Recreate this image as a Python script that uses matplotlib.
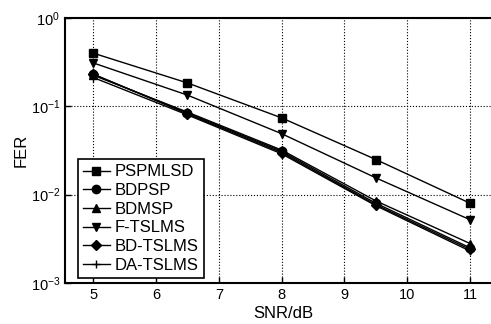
import matplotlib
matplotlib.use("Agg")
import matplotlib.pyplot as plt
import numpy as np

plt.rcParams["font.family"] = ["Liberation Sans", "DejaVu Sans"]

snr = [5, 6.5, 8, 9.5, 11]
pspmlsd = [0.40, 0.184, 0.074, 0.025, 0.0080]
bdpsp = [0.230, 0.084, 0.031, 0.0080, 0.0025]
bdmsp = [0.225, 0.086, 0.032, 0.0085, 0.0028]
f_tslms = [0.31, 0.134, 0.049, 0.0155, 0.0052]
bd_tslms = [0.232, 0.082, 0.030, 0.0077, 0.0024]
da_tslms = [0.212, 0.080, 0.029, 0.0075, 0.0023]

series = [
    ("PSPMLSD", pspmlsd, "s"),
    ("BDPSP", bdpsp, "o"),
    ("BDMSP", bdmsp, "^"),
    ("F-TSLMS", f_tslms, "v"),
    ("BD-TSLMS", bd_tslms, "D"),
    ("DA-TSLMS", da_tslms, "+"),
]

W, H = 491, 324
fig = plt.figure(figsize=(W / 100, H / 100), dpi=100)
# axes pixel box: left 65, top 18, bottom 283; right runs off the figure
x0, x1 = 4.55, 11.5
ppu = 62.8
left = 65
width = (x1 - x0) * ppu
ax = fig.add_axes([left / W, (H - 283) / H, width / W, (283 - 18) / H])

for name, vals, mk in series:
    ms = 6 if mk in ("s", "o", "+") else 5.5
    ax.plot(snr, vals, color="black", lw=1.0, marker=mk, ms=ms,
            markerfacecolor="black", markeredgecolor="black",
            markeredgewidth=1.0, label=name)

ax.set_yscale("log")
ax.set_xlim(x0, x1)
ax.set_ylim(1e-3, 1)
ax.set_xticks([5, 6, 7, 8, 9, 10, 11])
ax.set_yticks([1e-3, 1e-2, 1e-1, 1])
ax.yaxis.set_minor_locator(matplotlib.ticker.NullLocator())
ax.grid(True, which="major", color="black", ls=":", lw=0.8)
ax.tick_params(direction="in", length=4, labelsize=10.5, width=1, top=False, right=False)
for s in ax.spines.values():
    s.set_linewidth(1.5)

ax.set_xlabel("SNR/dB", fontsize=12, labelpad=3)
ax.set_ylabel("FER", fontsize=12, labelpad=1)

leg = ax.legend(loc="lower left", bbox_to_anchor=(0.03, 0.02), fontsize=12,
                frameon=True, fancybox=False, handlelength=1.6,
                handletextpad=0.3, borderpad=0.3, labelspacing=0.22,
                borderaxespad=0.0)
leg.get_frame().set_edgecolor("black")
leg.get_frame().set_linewidth(1.2)
leg.get_frame().set_alpha(1)

fig.savefig("out.png", dpi=100)
